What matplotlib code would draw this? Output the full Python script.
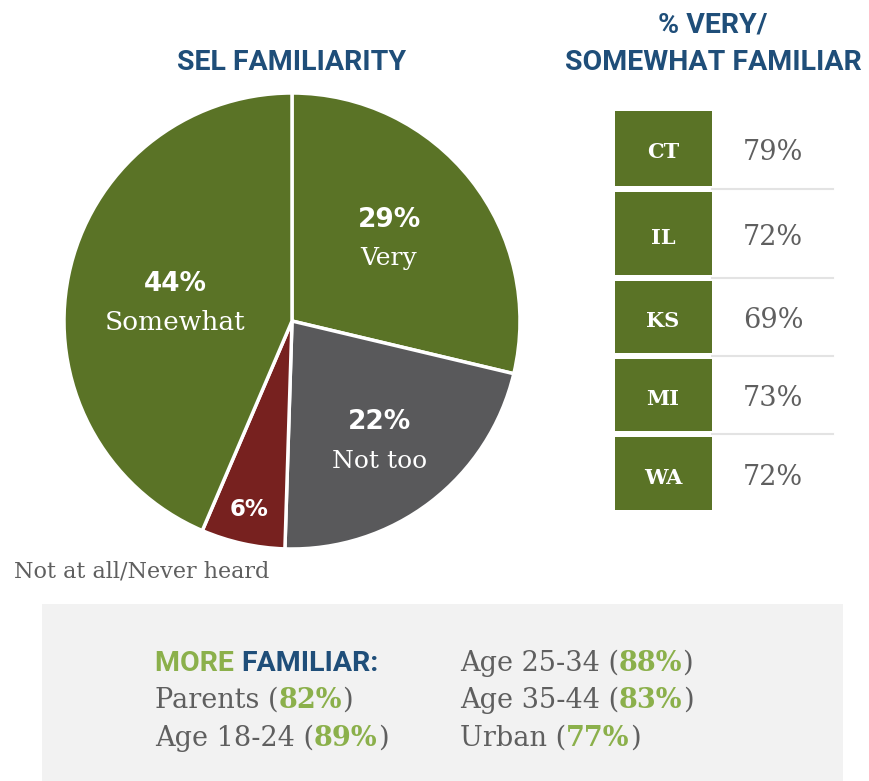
import matplotlib.pyplot as plt
from matplotlib.patches import Rectangle

# Données
pie_labels = ["Very", "Not too", "", "Somewhat"]
pie_values = [29, 22, 6, 44]
pie_colors = ["#5a7326", "#59595b", "#77211f", "#5a7326"]

states = ["CT", "IL", "KS", "MI", "WA"]
state_pct = [79, 72, 69, 73, 72]

groups_left = ["Parents", "Age 18-24"]
values_left = [82, 89]
groups_right = ["Age 25-34", "Age 35-44", "Urban"]
values_right = [88, 83, 77]

W, H = 869, 781
GREEN = "#5a7326"
BLUE = "#1f4e79"
LGREEN = "#8bb04b"
GREY_TXT = "#5f5f5f"
SANS_B = ["Roboto", "DejaVu Sans"]
SERIF = ["DejaVu Serif"]

fig = plt.figure(figsize=(W / 100, H / 100), dpi=100)

# Camembert
cx, cy, r = 292, 321, 228
pax = fig.add_axes([(cx - r) / W, 1 - (cy + r) / H, 2 * r / W, 2 * r / H])
pax.set_zorder(0)
pax.pie(pie_values, colors=pie_colors, startangle=90, counterclock=False,
        wedgeprops=dict(edgecolor="white", linewidth=2.5))
pax.set_aspect("equal")
pax.set_xlim(-1, 1)
pax.set_ylim(-1, 1)

bg = fig.add_axes([0, 0, 1, 1])
bg.set_zorder(1)
bg.set_xlim(0, W)
bg.set_ylim(H, 0)
bg.axis("off")

label_pos = [(389, 220), (380, 422), (249, 509), (175, 284)]
name_size = [18, 18, 18, 19]
for (x, y), v, lab, ns in zip(label_pos, pie_values, pie_labels, name_size):
    bg.text(x, y, f"{v}%", color="white", fontsize=19 if v > 6 else 16.5, fontweight="bold",
            family="DejaVu Sans", ha="center", va="center")
    if lab:
        bg.text(x, y + 39, lab, color="white", fontsize=ns, family=SERIF,
                ha="center", va="center")

bg.text(14, 571, "Not at all/Never heard", color=GREY_TXT, fontsize=16,
        family=SERIF, ha="left", va="center")

bg.text(292, 63, "SEL FAMILIARITY", color=BLUE, fontsize=20.5, fontweight="bold",
        family=SANS_B, ha="center", va="center")
bg.text(713, 25, "% VERY/", color=BLUE, fontsize=20.5, fontweight="bold",
        family=SANS_B, ha="center", va="center")
bg.text(713, 62, "SOMEWHAT FAMILIAR", color=BLUE, fontsize=20.5, fontweight="bold",
        family=SANS_B, ha="center", va="center")

# Tableau des états
rows = [(111, 186), (192, 275), (281, 353), (359, 431), (437, 510)]
for (top, bot), st, p in zip(rows, states, state_pct):
    bg.add_patch(Rectangle((615, top), 97, bot - top, color=GREEN, lw=0))
    mid = (top + bot) / 2 + 4
    bg.text(663, mid, st, color="white", fontsize=15, fontweight="bold",
            family=SERIF, ha="center", va="center")
    bg.text(773, mid, f"{p}%", color=GREY_TXT, fontsize=19.5, family=SERIF,
            ha="center", va="center")
for (top, bot) in rows[:-1]:
    bg.plot([712, 833], [bot + 3, bot + 3], color="#e3e3e3", lw=1.5)

# Encadré du bas
bg.add_patch(Rectangle((42, 604), 801, 177, color="#f2f2f2", lw=0))

fig.canvas.draw()
rend = fig.canvas.get_renderer()
inv = bg.transData.inverted()


def line(x, y, parts):
    for txt, col, fam, size, wt in parts:
        t = bg.text(x, y, txt, color=col, family=fam, fontsize=size, fontweight=wt,
                    ha="left", va="baseline")
        bb = t.get_window_extent(renderer=rend)
        x = inv.transform((bb.x1, bb.y0))[0]


FS = 19.5
line(155, 671, [("MORE ", LGREEN, SANS_B, 20.5, "bold"), ("FAMILIAR:", BLUE, SANS_B, 20.5, "bold")])
ys_left = [708, 746]
for y, g, v in zip(ys_left, groups_left, values_left):
    line(155, y, [(g + " (", GREY_TXT, SERIF, FS, "normal"), (f"{v}%", LGREEN, SERIF, FS, "bold"),
                  (")", GREY_TXT, SERIF, FS, "normal")])
ys_right = [671, 708, 746]
for y, g, v in zip(ys_right, groups_right, values_right):
    line(460, y, [(g + " (", GREY_TXT, SERIF, FS, "normal"), (f"{v}%", LGREEN, SERIF, FS, "bold"),
                  (")", GREY_TXT, SERIF, FS, "normal")])

fig.savefig("out.png", dpi=100)
